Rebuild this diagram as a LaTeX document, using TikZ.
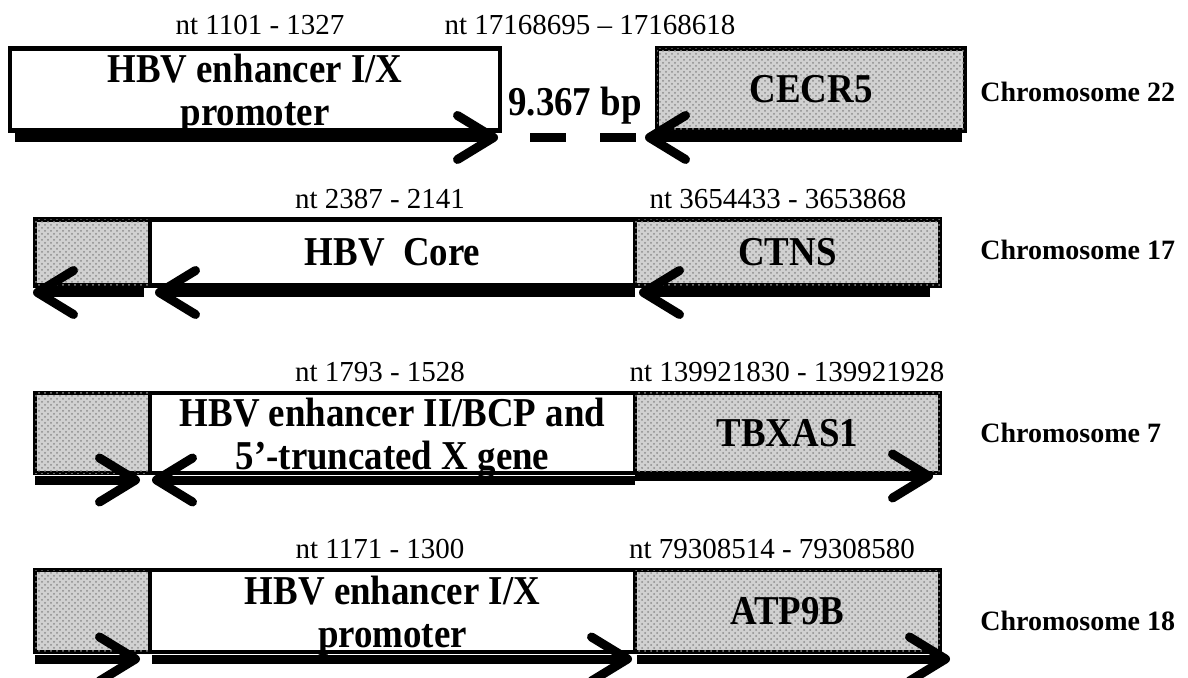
\documentclass[tikz,border=0pt]{standalone}
\usepackage{fontspec}
\setmainfont{Liberation Serif}
\newfontfamily\condserif[FakeStretch=0.9]{Liberation Serif}
\usepackage{tikz}
\usetikzlibrary{arrows.meta,positioning,patterns}

\begin{document}
\begin{tikzpicture}[x=0.5pt, y=-0.5pt,
    hbv/.style={draw, rectangle, line width=2.2pt, outer sep=0pt, inner sep=0pt, align=center,
                font=\condserif\bfseries\fontsize{20.5}{21.5}\selectfont},
    gene/.style={hbv, fill=black!18, postaction={pattern=crosshatch dots, pattern color=black!45}},
    boxtext/.style={align=center, inner sep=0pt, yshift=-2.5pt,
                font=\condserif\bfseries\fontsize{20.5}{21.5}\selectfont},
    bar/.style={line width=4.5pt, -{Straight Barb[length=18pt, width=22pt, round]}},
    gapline/.style={line width=4.5pt, dash pattern=on 18pt off 17pt},
    nt/.style={font=\fontsize{14.5}{17}\selectfont, inner sep=1pt},
    chrom/.style={anchor=west, font=\bfseries\fontsize{14}{16}\selectfont, inner sep=0pt},
    gap/.style={font=\condserif\bfseries\fontsize{20.5}{21.5}\selectfont, inner sep=0pt}]
    \useasboundingbox (0,0) rectangle (1188,678);

    % chromosome 22
    \node[hbv, minimum width=245pt, minimum height=41pt] (enhA) at (255,89.5) {};
    \node[boxtext] (enhAtext) at (enhA) {HBV enhancer I/X\\promoter};
    \node[gene, minimum width=154pt, minimum height=41pt] (cecr) at (811,89.5) {CECR5};
    \node[nt] (ntA) at (260,25) {nt 1101 - 1327};
    \node[nt] (ntB) at (590,25) {nt 17168695 – 17168618};
    \node[gap] (bp) at (575,106) {9.367 bp};
    \node[chrom] (chrA) at (980,92) {Chromosome 22};
    \draw[bar] ([xshift=2.5pt,yshift=-3.5pt]enhA.south west) -- ([xshift=-1pt,yshift=-3.5pt]enhA.south east);
    \draw[gapline] ([xshift=15pt,yshift=-3.5pt]enhA.south east) -- ([xshift=-10.5pt,yshift=-3.5pt]cecr.south west);
    \draw[bar] ([xshift=-1.5pt,yshift=-3.5pt]cecr.south east) -- ([xshift=-6pt,yshift=-3.5pt]cecr.south west);

    % chromosome 17
    \node[gene, minimum width=57.5pt, minimum height=33pt] (ctL) at (92.5,252.5) {};
    \node[hbv, minimum width=242.5pt, minimum height=33pt, right=0pt of ctL] (core) {HBV\ \ Core};
    \node[gene, minimum width=152.5pt, minimum height=33pt, right=0pt of core] (ctns) {CTNS};
    \node[nt] (ntC) at (380,199) {nt 2387 - 2141};
    \node[nt] (ntD) at (778,199) {nt 3654433 - 3653868};
    \node[chrom] (chrB) at (980,250) {Chromosome 17};
    \draw[bar] ([xshift=-3pt,yshift=-3.5pt]ctL.south east) -- ([xshift=-1pt,yshift=-3.5pt]ctL.south west);
    \draw[bar] ([yshift=-3.5pt]core.south east) -- ([xshift=2.5pt,yshift=-3.5pt]core.south west);
    \draw[bar] ([xshift=-5pt,yshift=-3.5pt]ctns.south east) -- ([xshift=2pt,yshift=-3.5pt]ctns.south west);

    % chromosome 7
    \node[gene, minimum width=57.5pt, minimum height=40pt] (tbL) at (92.5,433) {};
    \node[hbv, minimum width=242.5pt, minimum height=40pt, right=0pt of tbL] (enhB) {};
    \node[boxtext] (enhBtext) at (enhB) {HBV enhancer II/BCP and\\5’-truncated X gene};
    \node[gene, minimum width=152.5pt, minimum height=40pt, right=0pt of enhB] (tbx) {TBXAS1};
    \node[nt] (ntE) at (380,372) {nt 1793 - 1528};
    \node[nt] (ntF) at (787,372) {nt 139921830 - 139921928};
    \node[chrom] (chrC) at (980,433) {Chromosome 7};
    \draw[bar] ([yshift=-3.5pt]tbL.south west) -- ([xshift=-5pt,yshift=-3.5pt]tbL.south east);
    \draw[bar] ([yshift=-3.5pt]enhB.south east) -- ([xshift=1pt,yshift=-3.5pt]enhB.south west);
    \draw[bar] ([yshift=-1.5pt]tbx.south west) -- ([xshift=-3.5pt,yshift=-1.5pt]tbx.south east);

    % chromosome 18
    \node[gene, minimum width=57.5pt, minimum height=41pt] (atL) at (92.5,611) {};
    \node[hbv, minimum width=242.5pt, minimum height=41pt, right=0pt of atL] (enhC) {};
    \node[boxtext] (enhCtext) at (enhC) {HBV enhancer I/X\\promoter};
    \node[gene, minimum width=152.5pt, minimum height=41pt, right=0pt of enhC] (atp) {ATP9B};
    \node[nt] (ntG) at (380,549) {nt 1171 - 1300};
    \node[nt] (ntH) at (772,549) {nt 79308514 - 79308580};
    \node[chrom] (chrD) at (980,621) {Chromosome 18};
    \draw[bar] ([yshift=-3.5pt]atL.south west) -- ([xshift=-5pt,yshift=-3.5pt]atL.south east);
    \draw[bar] ([xshift=1pt,yshift=-3.5pt]enhC.south west) -- ([xshift=-1.5pt,yshift=-3.5pt]enhC.south east);
    \draw[bar] ([xshift=1pt,yshift=-3.5pt]atp.south west) -- ([xshift=5pt,yshift=-3.5pt]atp.south east);
\end{tikzpicture}
\end{document}
